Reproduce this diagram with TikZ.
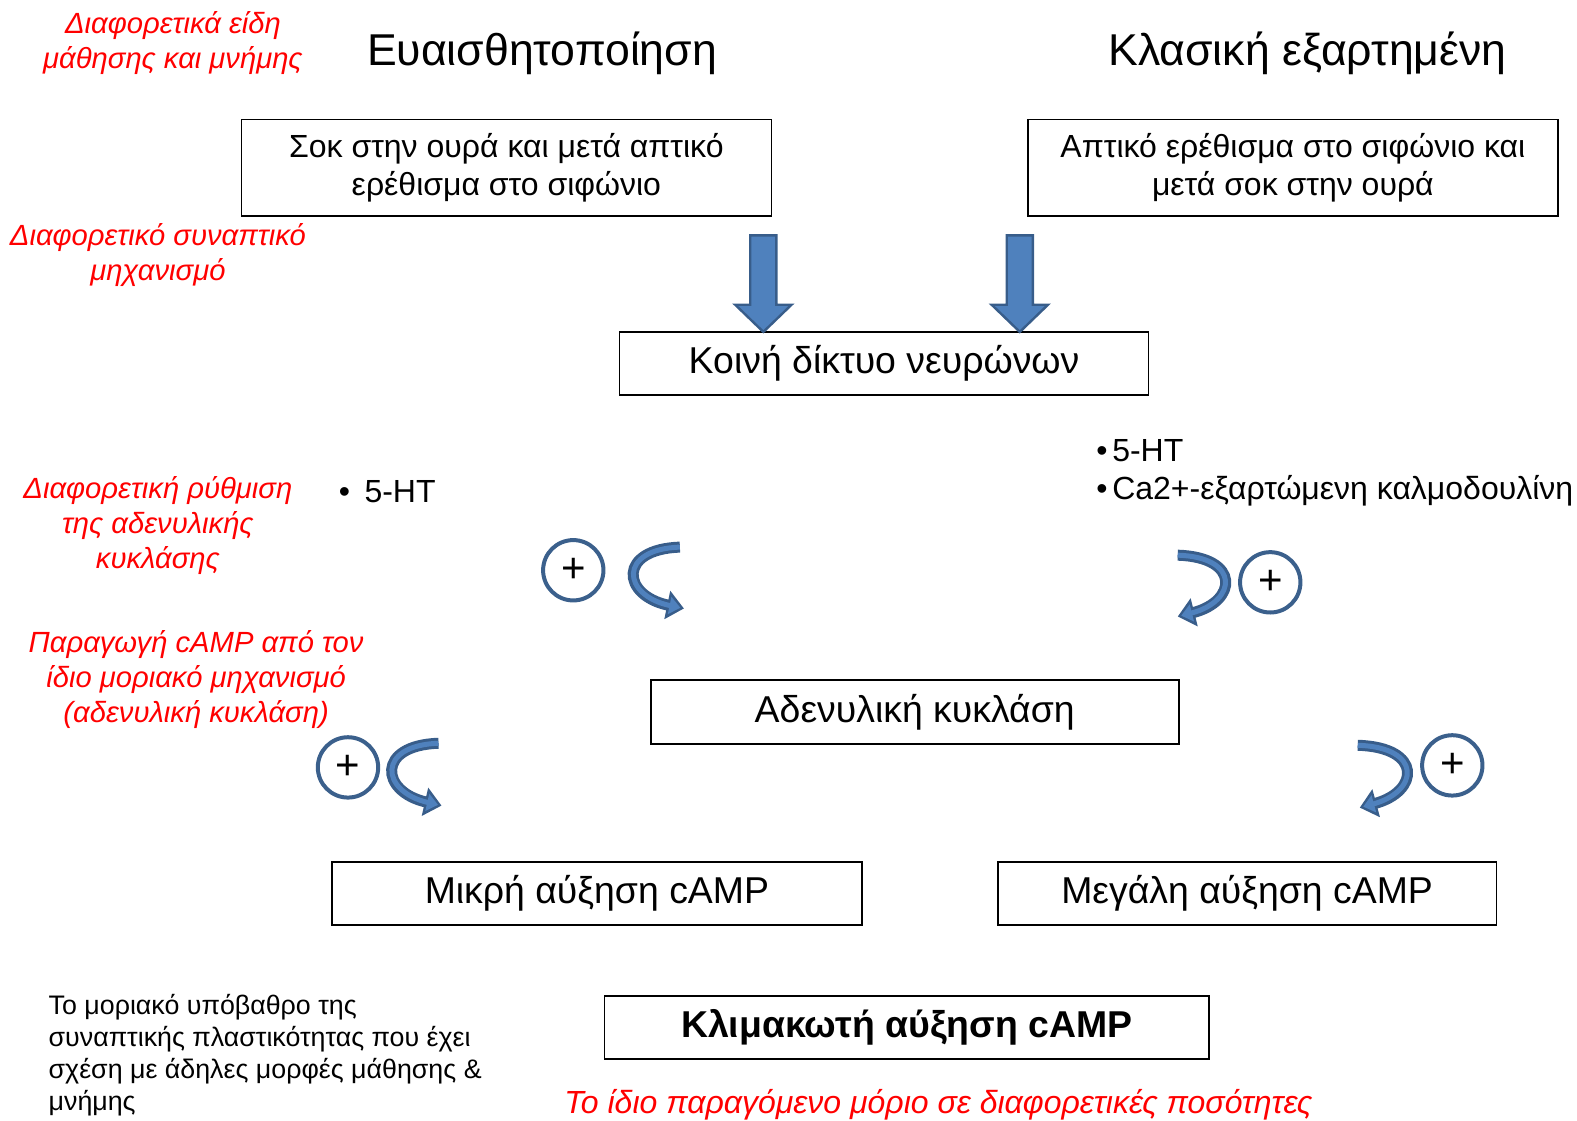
\documentclass[tikz,border=0pt]{standalone}
\usepackage{fontspec}
\setmainfont{Liberation Sans}
\usetikzlibrary{arrows.meta}
\newlength{\pxlen}
\setlength{\pxlen}{0.5029pt}
\definecolor{arrowfill}{RGB}{79,129,189}
\definecolor{arrowline}{RGB}{56,93,138}
\definecolor{circline}{RGB}{59,96,140}
\tikzset{%
  box/.style = {rectangle,draw,line width=0.8pt,align=center,inner sep=0pt,
        font=\fontsize{18.7}{22}\selectfont},
  onebox/.style = {box,text height=1.2em,text depth=0.18em},
  note/.style = {text=red,font=\itshape\fontsize{14.6}{17.5}\selectfont,
        align=center},
  head/.style = {font=\fontsize{22.3}{26}\selectfont},
  plain/.style = {font=\fontsize{16}{19}\selectfont,align=left,anchor=west},
  plus/.style = {circle,draw=circline,line width=2pt,minimum size=60\pxlen,
        inner sep=0pt,font=\fontsize{21}{21}\selectfont},
  blockarrow/.style = {fill=arrowfill,draw=arrowline,line width=1.2pt},
  curvdark/.style = {draw=arrowline,line width=5.5pt,
        -{Triangle[length=8.5pt,width=14pt]}},
  curvlight/.style = {draw=arrowfill,line width=2.5pt,shorten >=1.8pt,
        -{Triangle[length=5.5pt,width=8.5pt]}}
}

\begin{document}
\begin{tikzpicture}[x=\pxlen,y=-\pxlen]
   \useasboundingbox (0,0) rectangle (1568,1114);

   % top row
   \node[note] (kinds) at (172,43) {Διαφορετικά είδη\\μάθησης και μνήμης};
   \node[head] (sens) at (539,53) {Ευαισθητοποίηση};
   \node[head] (cond) at (1300,53) {Κλασική εξαρτημένη};

   \node[box,minimum width=527\pxlen,minimum height=96\pxlen,
         font=\fontsize{16}{19}\selectfont] (shock) at (503.5,167)
         {Σοκ στην ουρά και μετά απτικό\\ερέθισμα στο σιφώνιο};
   \node[box,minimum width=527\pxlen,minimum height=96\pxlen,
         font=\fontsize{16}{19}\selectfont] (touch) at (1285.5,167)
         {Απτικό ερέθισμα στο σιφώνιο και\\μετά σοκ στην ουρά};

   \node[note] (synapse) at (157,254) {Διαφορετικό συναπτικό\\μηχανισμό};

   \node[onebox,minimum width=526\pxlen,minimum height=63\pxlen] (net) at (879,361.5)
         {Κοινή δίκτυο νευρώνων};

   \foreach \ax in {759,1014}
      \draw[blockarrow] (\ax-13,234) -- (\ax+13,234) -- (\ax+13,303)
         -- (\ax+28,303) -- (\ax,330) -- (\ax-28,303) -- (\ax-13,303) -- cycle;

   % regulation
   \node[note] (regul) at (157,523) {Διαφορετική ρύθμιση\\της αδενυλικής\\κυκλάσης};
   \node[plain] (htleft) at (330,489) {•\hspace{0.45em}5-HT};
   \node[plain] (htright) at (1083,470)
         {•\hspace{0.15em}5-HT\\•\hspace{0.15em}Ca2+-εξαρτώμενη καλμοδουλίνη};

   \node[plus] (plusa) at (570,567) {+};
   \node[plus] (plusb) at (1263,579) {+};
   \draw[curvdark] (676,544) .. controls (614,546) and (618,592) .. (680,605);
   \draw[curvlight] (676,544) .. controls (614,546) and (618,592) .. (680,605);
   \draw[curvdark] (1171,552) .. controls (1234,554) and (1230,598) .. (1171,613);
   \draw[curvlight] (1171,552) .. controls (1234,554) and (1230,598) .. (1171,613);

   \node[note] (product) at (195,676)
         {Παραγωγή cAMP από τον\\ίδιο μοριακό μηχανισμό\\(αδενυλική κυκλάση)};
   \node[onebox,minimum width=525\pxlen,minimum height=64\pxlen] (ac) at (909.5,708)
         {Αδενυλική κυκλάση};

   \node[plus] (plusc) at (346,763) {+};
   \node[plus] (plusd) at (1444,761) {+};
   \draw[curvdark] (436,739) .. controls (374,741) and (378,787) .. (439,801);
   \draw[curvlight] (436,739) .. controls (374,741) and (378,787) .. (439,801);
   \draw[curvdark] (1350,741) .. controls (1415,743) and (1411,787) .. (1352,803);
   \draw[curvlight] (1350,741) .. controls (1415,743) and (1411,787) .. (1352,803);

   % results
   \node[onebox,minimum width=527\pxlen,minimum height=63\pxlen] (small) at (593.5,888.5)
         {Μικρή αύξηση cAMP};
   \node[onebox,minimum width=496\pxlen,minimum height=63\pxlen] (large) at (1240,888.5)
         {Μεγάλη αύξηση cAMP};
   \node[onebox,minimum width=601\pxlen,minimum height=63\pxlen,
         font=\bfseries\fontsize{18.7}{22}\selectfont] (graded) at (901.5,1021.5)
         {Κλιμακωτή αύξηση cAMP};

   \node[plain,font=\fontsize{13.4}{16}\selectfont,inner sep=0pt] (basis) at (48,1049)
         {Το μοριακό υπόβαθρο της\\συναπτικής πλαστικότητας που έχει\\σχέση με άδηλες μορφές μάθησης \&\\μνήμης};
   \node[note,font=\itshape\fontsize{16}{18}\selectfont] (same) at (933,1098)
         {Το ίδιο παραγόμενο μόριο σε διαφορετικές ποσότητες};
\end{tikzpicture}
\end{document}
